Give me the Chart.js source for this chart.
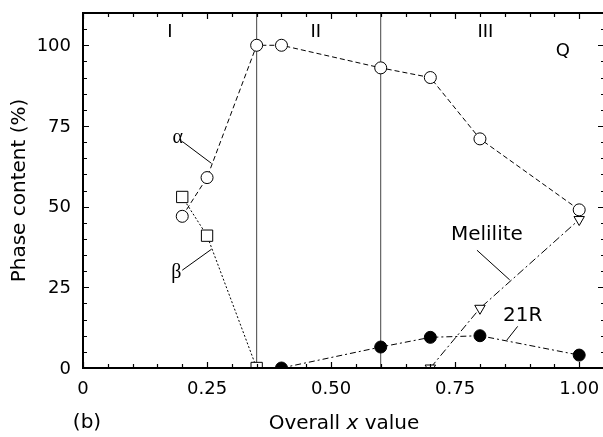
<!DOCTYPE html>
<html><head><meta charset="utf-8">
<script src="https://cdn.jsdelivr.net/npm/chart.js@4.4.1/dist/chart.umd.min.js"></script>
<style>html,body{margin:0;padding:0;overflow:hidden;background:#fff}
#c{display:block}</style>
</head><body><canvas id="c" width="606" height="437" style="width:606px;height:437px"></canvas>
<script>
// ---- data ----
const alphaX = [0.20, 0.25, 0.35, 0.40, 0.60, 0.70, 0.80, 1.00];
const alphaY = [47, 59, 100, 100, 93, 90, 71, 49];
const betaX  = [0.20, 0.25, 0.35];
const betaY  = [53, 41, 0];
const r21X   = [0.40, 0.60, 0.70, 0.80, 1.00];
const r21Y   = [0, 6.5, 9.5, 10, 4];
const melX   = [0.70, 0.80, 1.00];
const melY   = [0, 18.5, 46];
const boundaries = [0.35, 0.60];
const xTickValues = [0, 0.25, 0.50, 0.75, 1.00];
const xTickLabels = ['0', '0.25', '0.50', '0.75', '1.00'];
const yTickValues = [0, 25, 50, 75, 100];
const yTickLabels = ['0', '25', '50', '75', '100'];
const regionLabels = [['I', 0.175, 104], ['II', 0.469, 104], ['III', 0.811, 104], ['Q', 0.967, 98]];

const pts = (xs, ys) => xs.map((x, i) => ({x, y: ys[i]}));
const SANS = '"DejaVu Sans", "Liberation Sans", Arial, sans-serif';
const SERIF = '"Liberation Serif", "Times New Roman", serif';

const base = {showLine: true, borderColor: '#000', borderWidth: 1, pointBorderColor: '#000', pointBorderWidth: 1, pointHoverRadius: 6};
const datasets = [
  Object.assign({}, base, {label: 'α', data: pts(alphaX, alphaY), borderDash: [5, 3], pointStyle: 'circle', pointRadius: 6, pointBackgroundColor: '#fff'}),
  Object.assign({}, base, {label: 'β', data: pts(betaX, betaY), borderDash: [2, 2], pointStyle: 'rect', pointRadius: 8, pointBackgroundColor: '#fff'}),
  Object.assign({}, base, {label: '21R', data: pts(r21X, r21Y), borderDash: [6, 3, 2, 3], pointStyle: 'circle', pointRadius: 6, pointBackgroundColor: '#000'}),
  Object.assign({}, base, {label: 'Melilite', data: pts(melX, melY), borderDash: [8, 3, 2, 3], pointStyle: 'triangle', rotation: 180, pointRadius: 6, pointBackgroundColor: '#fff'}),
];
boundaries.forEach(b => datasets.push({label: 'b' + b, data: [{x: b, y: 0}, {x: b, y: 110}], showLine: true, borderColor: '#444', borderWidth: 1, pointRadius: 0}));

const decor = {
  id: 'decor',
  afterDatasetsDraw(chart) {
    const {ctx, chartArea: a, scales: {x, y}} = chart;
    const X = v => x.getPixelForValue(v), Y = v => y.getPixelForValue(v);
    ctx.save();
    // frame
    ctx.strokeStyle = '#000'; ctx.lineWidth = 2;
    ctx.strokeRect(a.left, a.top, a.right - a.left, a.bottom - a.top);
    // inward ticks
    ctx.lineWidth = 1.2;
    ctx.beginPath();
    for (let i = 0; i <= 21; i++) {
      const v = i * 0.05, px = Math.round(X(v)) + 0.5;
      const L = (i % 5 === 0) ? 6 : 4;
      ctx.moveTo(px, a.bottom); ctx.lineTo(px, a.bottom - L);
      ctx.moveTo(px, a.top); ctx.lineTo(px, a.top + L);
    }
    for (let i = 0; i <= 22; i++) {
      const v = i * 5, py = Math.round(Y(v)) + 0.5;
      const L = (i % 5 === 0) ? 6 : 4;
      ctx.moveTo(a.left, py); ctx.lineTo(a.left + L, py);
      ctx.moveTo(a.right, py); ctx.lineTo(a.right - (i % 5 === 0 ? 6 : 3), py);
    }
    ctx.stroke();
    ctx.fillStyle = '#000';
    // tick labels
    ctx.font = '18px ' + SANS; ctx.textBaseline = 'middle';
    ctx.textAlign = 'center';
    xTickValues.forEach((v, i) => ctx.fillText(xTickLabels[i], X(v), a.bottom + 21));
    ctx.textAlign = 'right';
    yTickValues.forEach((v, i) => ctx.fillText(yTickLabels[i], a.left - 12, Y(v) + 1));
    // y title
    ctx.save();
    ctx.font = '20px ' + SANS; ctx.textAlign = 'center';
    ctx.translate(20, (a.top + a.bottom) / 2); ctx.rotate(-Math.PI / 2);
    ctx.fillText('Phase content (%)', 0, 0);
    ctx.restore();
    // region labels
    ctx.font = '18px ' + SANS; ctx.textAlign = 'center'; ctx.textBaseline = 'middle';
    regionLabels.forEach(([t, vx, vy]) => ctx.fillText(t, X(vx), Y(vy)));
    // series labels with leaders
    const leader = (x1, y1, x2, y2) => { ctx.beginPath(); ctx.moveTo(X(x1), Y(y1)); ctx.lineTo(X(x2), Y(y2)); ctx.lineWidth = 1; ctx.stroke(); };
    ctx.font = '20px ' + SERIF;
    ctx.fillText('α', X(0.191), Y(71.5));
    leader(0.200, 70.2, 0.259, 63.4);
    ctx.fillText('β', X(0.188), Y(29.5));
    leader(0.200, 30.3, 0.259, 36.8);
    ctx.font = '20px ' + SANS;
    ctx.fillText('Melilite', X(0.814), Y(41.2));
    leader(0.794, 36.5, 0.860, 27.3);
    ctx.fillText('21R', X(0.886), Y(16.3));
    leader(0.876, 12.9, 0.854, 8.6);
    // x title with italic x, and panel label
    const cy = 424;
    ctx.textAlign = 'left';
    const p1 = 'Overall ', p2 = 'x', p3 = ' value';
    ctx.font = '20px ' + SANS; const w1 = ctx.measureText(p1).width, w3 = ctx.measureText(p3).width;
    ctx.font = 'italic 20px ' + SANS; const w2 = ctx.measureText(p2).width;
    let sx = 344 - (w1 + w2 + w3) / 2;
    ctx.font = '20px ' + SANS; ctx.fillText(p1, sx, cy);
    ctx.font = 'italic 20px ' + SANS; ctx.fillText(p2, sx + w1, cy);
    ctx.font = '20px ' + SANS; ctx.fillText(p3, sx + w1 + w2, cy);
    ctx.textAlign = 'center';
    ctx.fillText('(b)', 87, cy - 1);
    ctx.restore();
  }
};

new Chart(document.getElementById('c'), {
  type: 'scatter',
  data: {datasets},
  options: {
    responsive: false, animation: false, devicePixelRatio: 1,
    layout: {autoPadding: false, padding: {top: 13, right: 2, left: 0, bottom: 0}},
    plugins: {legend: {display: false}, tooltip: {enabled: false}},
    scales: {
      x: {
        type: 'linear', min: 0, max: 1.05,
        afterBuildTicks: s => { s.ticks = xTickValues.map(v => ({value: v})); },
        afterFit: s => { s.height = 69; },
        grid: {display: false, drawTicks: false}, border: {display: false},
        ticks: {display: false}
      },
      y: {
        type: 'linear', min: 0, max: 110,
        afterBuildTicks: s => { s.ticks = yTickValues.map(v => ({value: v})); },
        afterFit: s => { s.width = 83; },
        grid: {display: false, drawTicks: false}, border: {display: false},
        ticks: {display: false}
      }
    }
  },
  plugins: [decor]
});
</script></body></html>
